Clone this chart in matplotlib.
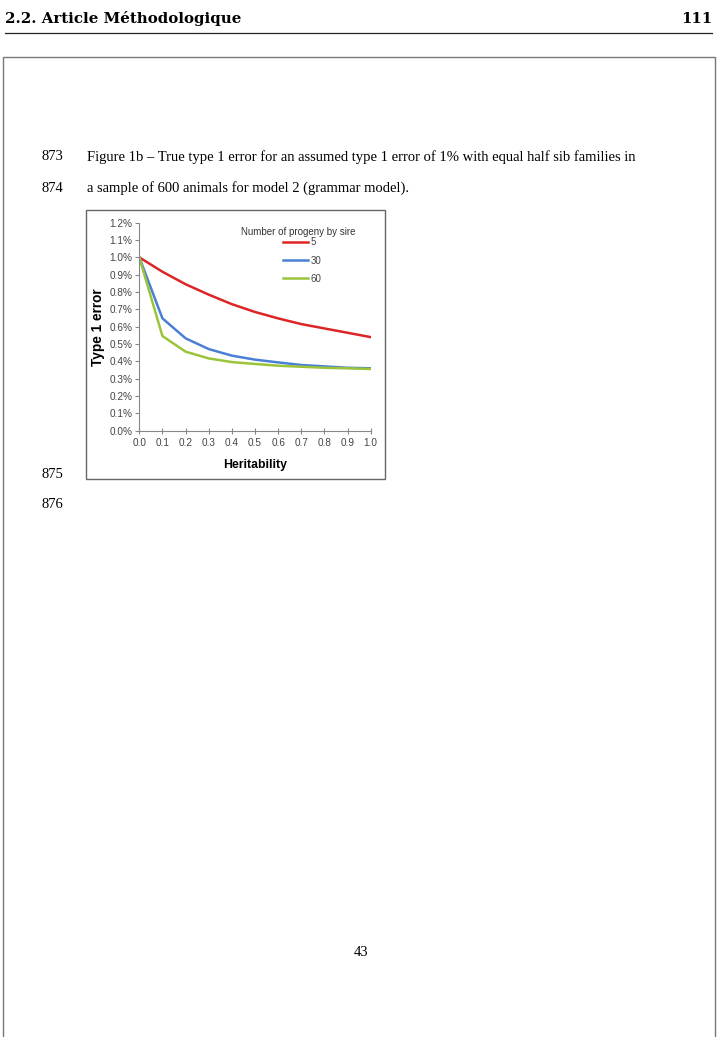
import matplotlib.pyplot as plt
from matplotlib.patches import Rectangle
from matplotlib.lines import Line2D

# data (type 1 error in %)
heritability = [0.0, 0.1, 0.2, 0.3, 0.4, 0.5, 0.6, 0.7, 0.8, 0.9, 1.0]
err_5 = [1.00, 0.917, 0.845, 0.785, 0.73, 0.685, 0.648, 0.615, 0.59, 0.565, 0.54]
err_30 = [1.00, 0.648, 0.533, 0.471, 0.433, 0.41, 0.394, 0.379, 0.371, 0.363, 0.36]
err_60 = [1.00, 0.546, 0.456, 0.417, 0.396, 0.385, 0.375, 0.369, 0.363, 0.36, 0.356]
series_labels = ['5', '30', '60']
series_colors = ['#dd2528', '#4a7fd6', '#9cc43a']
y_ticks = [0.0, 0.1, 0.2, 0.3, 0.4, 0.5, 0.6, 0.7, 0.8, 0.9, 1.0, 1.1, 1.2]
x_ticks = [0.0, 0.1, 0.2, 0.3, 0.4, 0.5, 0.6, 0.7, 0.8, 0.9, 1.0]

W, H = 719, 1037
fig = plt.figure(figsize=(W / 100, H / 100), dpi=100)


def fx(px):
    return px / W


def fy(py):
    return 1 - py / H


serif = ['Liberation Serif', 'DejaVu Serif']
sans = ['Liberation Sans', 'DejaVu Sans']

# page header
fig.text(fx(5), fy(19), '2.2. Article Méthodologique', family=['DejaVu Serif'], fontsize=10.8,
         fontweight='bold', va='center', ha='left')
fig.text(fx(712), fy(19), '111', family=['DejaVu Serif'], fontsize=10.8, fontweight='bold',
         va='center', ha='right')
fig.add_artist(Line2D([fx(5), fx(712)], [fy(33), fy(33)], color='#222222', lw=0.9))

# page frame
fig.add_artist(Rectangle((fx(3), fy(1045)), fx(712), 988 / H, fill=False,
                         edgecolor='#777777', lw=1.0))

# line numbers and caption
fs = 10.5
fig.text(fx(41), fy(157), '873', family=serif, fontsize=fs, va='center')
fig.text(fx(87), fy(157), 'Figure 1b \u2013 True type 1 error for an assumed type 1 error of 1% '
         'with equal half sib families in', family=serif, fontsize=fs, va='center')
fig.text(fx(41), fy(188), '874', family=serif, fontsize=fs, va='center')
fig.text(fx(87), fy(188), 'a sample of 600 animals for model 2 (grammar model).',
         family=serif, fontsize=fs, va='center')
fig.text(fx(41), fy(475), '875', family=serif, fontsize=fs, va='center')
fig.text(fx(41), fy(505), '876', family=serif, fontsize=fs, va='center')
fig.text(fx(361), fy(952), '43', family=serif, fontsize=fs, va='center', ha='center')

# chart box
fig.add_artist(Rectangle((fx(86), fy(479)), fx(385) - fx(86), (479 - 210) / H, fill=False,
                         edgecolor='#666666', lw=1.0))

# chart
ax = fig.add_axes([fx(139.3), fy(430.7), fx(370.7) - fx(139.3), (430.7 - 222.7) / H])
for vals, lab, col in zip([err_5, err_30, err_60], series_labels, series_colors):
    ax.plot(heritability, vals, color=col, lw=1.8, label=lab)

ax.set_xlim(0, 1.0)
ax.set_ylim(0, 1.2)
ax.set_xticks(x_ticks)
ax.set_xticklabels(['%.1f' % v for v in x_ticks])
ax.set_yticks(y_ticks)
ax.set_yticklabels(['%.1f%%' % v for v in y_ticks])
for s in ['top', 'right']:
    ax.spines[s].set_visible(False)
for s in ['left', 'bottom']:
    ax.spines[s].set_color('#888888')
    ax.spines[s].set_linewidth(0.8)
ax.tick_params(axis='y', direction='out', length=3, color='#888888', labelsize=7.2,
               labelcolor='#444444', pad=2)
ax.tick_params(axis='x', direction='inout', length=4, color='#888888', labelsize=7.2,
               labelcolor='#444444', pad=3)
for lab in ax.get_xticklabels() + ax.get_yticklabels():
    lab.set_family(sans)

ax.set_ylabel('Type 1 error', family=sans, fontsize=9.8, fontweight='bold', labelpad=3)
ax.set_xlabel('Heritability', family=sans, fontsize=8.8, fontweight='bold', labelpad=8)

# legend: title drawn apart so the gap to the entries can be set
ax.text(0.685, 0.957, 'Number of progeny by sire', transform=ax.transAxes, ha='center',
        va='center', family=sans, fontsize=7.0, color='#333333')
leg = ax.legend(frameon=False, loc='upper left', bbox_to_anchor=(0.621, 0.93),
                borderaxespad=0, borderpad=0, handlelength=2.6, handletextpad=0.2,
                labelspacing=0.85, prop={'family': sans, 'size': 7.0})
for t in leg.get_texts():
    t.set_color('#444444')

fig.savefig('out.png', dpi=100)
